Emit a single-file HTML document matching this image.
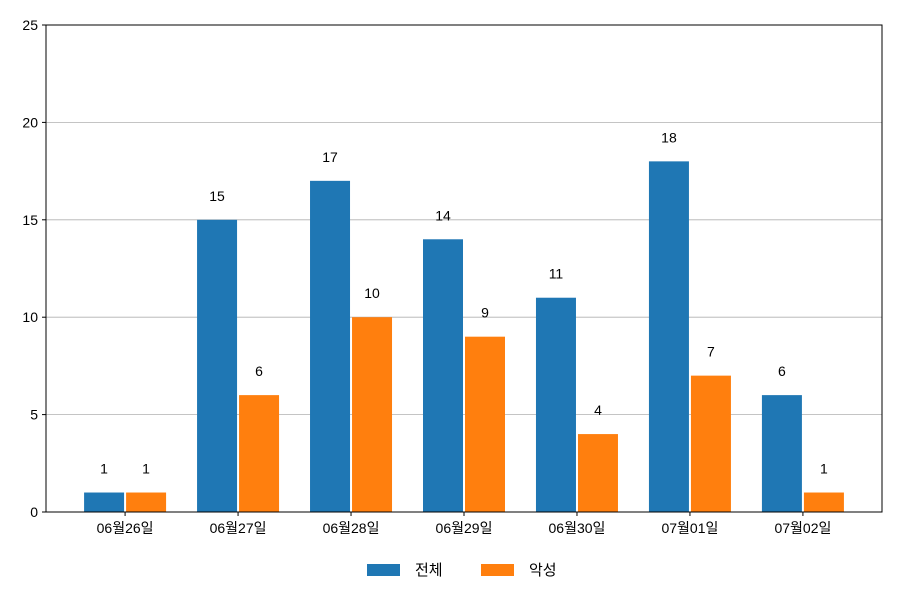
<!DOCTYPE html>
<html><head><meta charset="utf-8"><style>
body{margin:0;background:#fff}
text{font-family:"Liberation Sans","Noto Sans CJK KR",sans-serif;fill:#000}
</style></head><body>
<svg id="chart" width="900" height="600" xmlns="http://www.w3.org/2000/svg"></svg>
<script>
const categories=["06월26일","06월27일","06월28일","06월29일","06월30일","07월01일","07월02일"];
const totalValues=[1,15,17,14,11,18,6];
const maliciousValues=[1,6,10,9,4,7,1];
const yTicks=[0,5,10,15,20,25];
const seriesNames=["전체","악성"];
const colors=["#1f77b4","#ff7f0e"];
const L=46,R=882,T=25,B=512,yMax=25;
const xs=i=>L+(i+0.7)*(R-L)/7.4;
const ys=v=>B-v*(B-T)/yMax;
const svg=document.getElementById('chart');
const NS="http://www.w3.org/2000/svg";
function mk(tag,attrs,parent){const e=document.createElementNS(NS,tag);for(const k in attrs)e.setAttribute(k,attrs[k]);(parent||svg).appendChild(e);return e;}
yTicks.forEach(t=>{
  if(t>0&&t<yMax){const g=mk('line',{x1:L,x2:R,y1:ys(t),y2:ys(t),stroke:'#b0b0b0','stroke-width':0.8});
  
  }
  mk('line',{x1:L-4,x2:L,y1:ys(t),y2:ys(t),stroke:'#000'});
  const tx=mk('text',{x:L-8,y:ys(t)+5,'text-anchor':'end','font-size':14});
  tx.textContent=t;
  
  
});
[totalValues,maliciousValues].forEach((vals,s)=>{
  vals.forEach((v,i)=>{
    const x=s===0?xs(i)-41:xs(i)+1;
    const r=mk('rect',{x:x,y:ys(v),width:40,height:B-ys(v),fill:colors[s]});
    
    
    const t=mk('text',{x:x+20,y:ys(v)-19,'text-anchor':'middle','font-size':14});
    t.textContent=v;
    
    
  });
});
categories.forEach((c,i)=>{
  mk('line',{x1:xs(i),x2:xs(i),y1:B,y2:B+4,stroke:'#000'});
  const t=mk('text',{x:xs(i),y:B+21,'text-anchor':'middle','font-size':14});
  t.textContent=c;
  
  
});
const frame=mk('rect',{x:L,y:T,width:R-L,height:B-T,fill:'none',stroke:'#000','stroke-width':1});


seriesNames.forEach((n,s)=>{
  const x0=367+s*114;
  const g=mk('g',{});
  
  
  mk('rect',{x:x0,y:564,width:33,height:12,fill:colors[s]},g);
  const t=mk('text',{x:x0+48,y:575,'font-size':15},g);
  t.textContent=n;
});
</script>
</body></html>
